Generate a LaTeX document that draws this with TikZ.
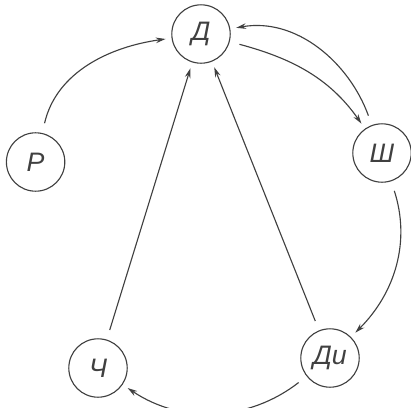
\documentclass[tikz,border=0pt]{standalone}
\usepackage{fontspec}
\setmainfont{Liberation Sans}
\usetikzlibrary{arrows.meta}
\tikzset{
  state/.style={draw,circle,minimum size=1.46cm,inner sep=0pt,font=\fontsize{19}{21}\selectfont\itshape},
  link/.style={-{Stealth[length=7pt,width=4pt]},shorten <=2.5mm,shorten >=1.5mm}
}
\begin{document}
\begin{tikzpicture}[line width=.8pt,black!75]
\useasboundingbox (0,0) rectangle (10.275,10.175);
% states
\node[state] (D) at (5.025,9.325) {Д};
\node[state] (Sh) at (9.55,6.35) {Ш};
\node[state] (R) at (0.89,6.125) {Р};
\node[state] (Ch) at (2.45,0.975) {Ч};
\node[state] (Di) at (8.25,1.225) {Ди};
% transitions
\draw[link] (R) to[out=77,in=188] (D);
\draw[link] (D) to[out=-15,in=125] (Sh);
\draw[link] (Sh) to[out=110,in=10] (D);
\draw[link] (Sh) to[out=-72,in=45] (Di);
\draw[link] (Di) to[out=-142,in=-34] (Ch);
\draw[link] (Ch) -- (D);
\draw[link] (Di) -- (D);
\end{tikzpicture}
\end{document}
